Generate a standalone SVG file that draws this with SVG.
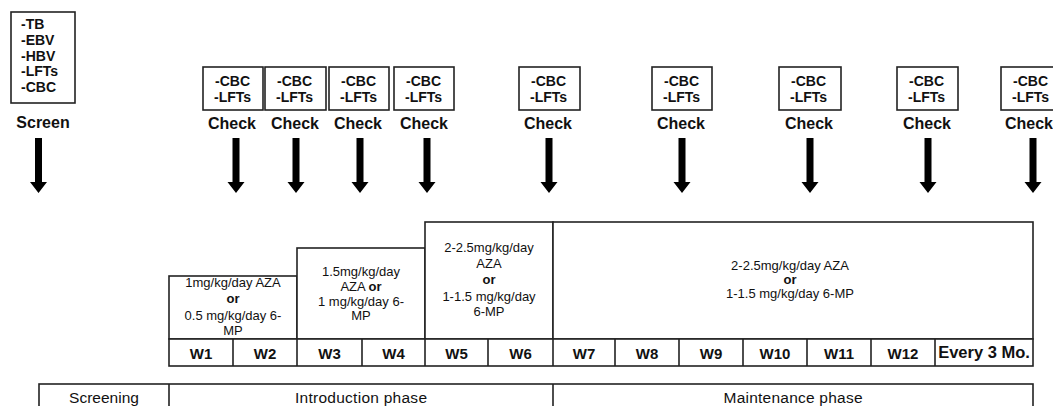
<svg xmlns="http://www.w3.org/2000/svg" width="1053" height="406" viewBox="0 0 1053 406">
<style>
.box{fill:#fff;stroke:#222;stroke-width:1.6}
.ln{fill:none;stroke:#222;stroke-width:1.6}
.lab{font-family:"Liberation Sans",Arial,sans-serif;font-weight:bold;font-size:14px;fill:#111}
.chk{font-family:"Liberation Sans",Arial,sans-serif;font-weight:bold;font-size:16px;fill:#111;text-anchor:middle}
.dose{font-family:"Liberation Sans",Arial,sans-serif;font-size:13px;fill:#111;text-anchor:middle}
.b{font-weight:bold}
.wk{font-family:"Liberation Sans",Arial,sans-serif;font-weight:bold;font-size:15px;fill:#111;text-anchor:middle}
.ph{font-family:"Liberation Sans",Arial,sans-serif;font-size:15.5px;fill:#111;text-anchor:middle}
</style>
<defs>
<path id="arr" d="M-3.5,138 h7 v44 h5 l-8.5,11 l-8.5,-11 h5 z" fill="#000"/>
</defs>
<rect width="1053" height="406" fill="#fff"/>

<g id="screen">
<rect class="box" x="11" y="12" width="64" height="91"/>
<text class="lab" x="21" y="29">-TB</text>
<text class="lab" x="21" y="45">-EBV</text>
<text class="lab" x="21" y="61">-HBV</text>
<text class="lab" x="21" y="76">-LFTs</text>
<text class="lab" x="21" y="92">-CBC</text>
<text class="chk" x="43" y="128">Screen</text>
</g>

<g id="check1"><rect class="box" x="203" y="67" width="60" height="43"/><text class="lab" x="215" y="86">-CBC</text><text class="lab" x="214" y="102">-LFTs</text><text class="chk" x="232" y="129">Check</text></g>
<g id="check2"><rect class="box" x="265" y="67" width="61" height="43"/><text class="lab" x="277" y="86">-CBC</text><text class="lab" x="276" y="102">-LFTs</text><text class="chk" x="295" y="129">Check</text></g>
<g id="check3"><rect class="box" x="329" y="67" width="60" height="43"/><text class="lab" x="341" y="86">-CBC</text><text class="lab" x="340" y="102">-LFTs</text><text class="chk" x="358" y="129">Check</text></g>
<g id="check4"><rect class="box" x="394" y="67" width="60" height="43"/><text class="lab" x="406" y="86">-CBC</text><text class="lab" x="405" y="102">-LFTs</text><text class="chk" x="424" y="129">Check</text></g>
<g id="check5"><rect class="box" x="519" y="67" width="61" height="43"/><text class="lab" x="531" y="86">-CBC</text><text class="lab" x="530" y="102">-LFTs</text><text class="chk" x="548" y="129">Check</text></g>
<g id="check6"><rect class="box" x="652" y="67" width="60" height="43"/><text class="lab" x="664" y="86">-CBC</text><text class="lab" x="663" y="102">-LFTs</text><text class="chk" x="681" y="129">Check</text></g>
<g id="check7"><rect class="box" x="779" y="67" width="62" height="43"/><text class="lab" x="791" y="86">-CBC</text><text class="lab" x="790" y="102">-LFTs</text><text class="chk" x="809" y="129">Check</text></g>
<g id="check8"><rect class="box" x="897" y="67" width="61" height="43"/><text class="lab" x="909" y="86">-CBC</text><text class="lab" x="908" y="102">-LFTs</text><text class="chk" x="927" y="129">Check</text></g>
<g id="check9"><rect class="box" x="1001" y="67" width="60" height="43"/><text class="lab" x="1013" y="86">-CBC</text><text class="lab" x="1012" y="102">-LFTs</text><text class="chk" x="1029" y="129">Check</text></g>

<g id="connectors">
<use href="#arr" x="38.5"/>
<use href="#arr" x="236"/>
<use href="#arr" x="296"/>
<use href="#arr" x="360"/>
<use href="#arr" x="427"/>
<use href="#arr" x="549"/>
<use href="#arr" x="682"/>
<use href="#arr" x="810"/>
<use href="#arr" x="928"/>
<use href="#arr" x="1033"/>
</g>

<g id="dose1">
<rect class="box" x="169" y="276" width="128" height="63"/>
<text class="dose" x="233" y="287">1mg/kg/day AZA</text>
<text class="dose b" x="233" y="303">or</text>
<text class="dose" x="233" y="320">0.5 mg/kg/day 6-</text>
<text class="dose" x="233" y="335">MP</text>
</g>
<g id="dose2">
<rect class="box" x="297" y="248" width="128" height="91"/>
<text class="dose" x="361" y="276">1.5mg/kg/day</text>
<text class="dose" x="361" y="291">AZA <tspan class="b">or</tspan></text>
<text class="dose" x="361" y="306">1 mg/kg/day 6-</text>
<text class="dose" x="361" y="320">MP</text>
</g>
<g id="dose3">
<rect class="box" x="425" y="222" width="128" height="117"/>
<text class="dose" x="489" y="252">2-2.5mg/kg/day</text>
<text class="dose" x="489" y="268">AZA</text>
<text class="dose b" x="489" y="284">or</text>
<text class="dose" x="489" y="301">1-1.5 mg/kg/day</text>
<text class="dose" x="489" y="316">6-MP</text>
</g>
<g id="dose4">
<rect class="box" x="553" y="222" width="480" height="117"/>
<text class="dose" x="790" y="270">2-2.5mg/kg/day AZA</text>
<text class="dose b" x="790" y="284">or</text>
<text class="dose" x="790" y="298">1-1.5 mg/kg/day 6-MP</text>
</g>

<g id="weeks">
<rect class="box" x="169" y="339" width="864" height="27"/>
<path class="ln" d="M233,339V366M297,339V366M362,339V366M425,339V366M488,339V366M553,339V366M615,339V366M679,339V366M743,339V366M807,339V366M871,339V366M935,339V366"/>
<text class="wk" x="201" y="359">W1</text>
<text class="wk" x="265" y="359">W2</text>
<text class="wk" x="329.5" y="359">W3</text>
<text class="wk" x="393.5" y="359">W4</text>
<text class="wk" x="456.5" y="359">W5</text>
<text class="wk" x="520.5" y="359">W6</text>
<text class="wk" x="584" y="359">W7</text>
<text class="wk" x="647" y="359">W8</text>
<text class="wk" x="711" y="359">W9</text>
<text class="wk" x="775" y="359">W10</text>
<text class="wk" x="839" y="359">W11</text>
<text class="wk" x="903" y="359">W12</text>
<text class="wk" x="984" y="358" style="font-size:16.5px">Every 3 Mo.</text>
</g>

<g id="phases">
<rect class="box" x="39" y="384" width="994" height="30"/>
<path class="ln" d="M169,384V406M553,384V406"/>
<text class="ph" x="104" y="403">Screening</text>
<text class="ph" x="361" y="403" textLength="132">Introduction phase</text>
<text class="ph" x="793" y="403" textLength="139">Maintenance phase</text>
</g>
</svg>
